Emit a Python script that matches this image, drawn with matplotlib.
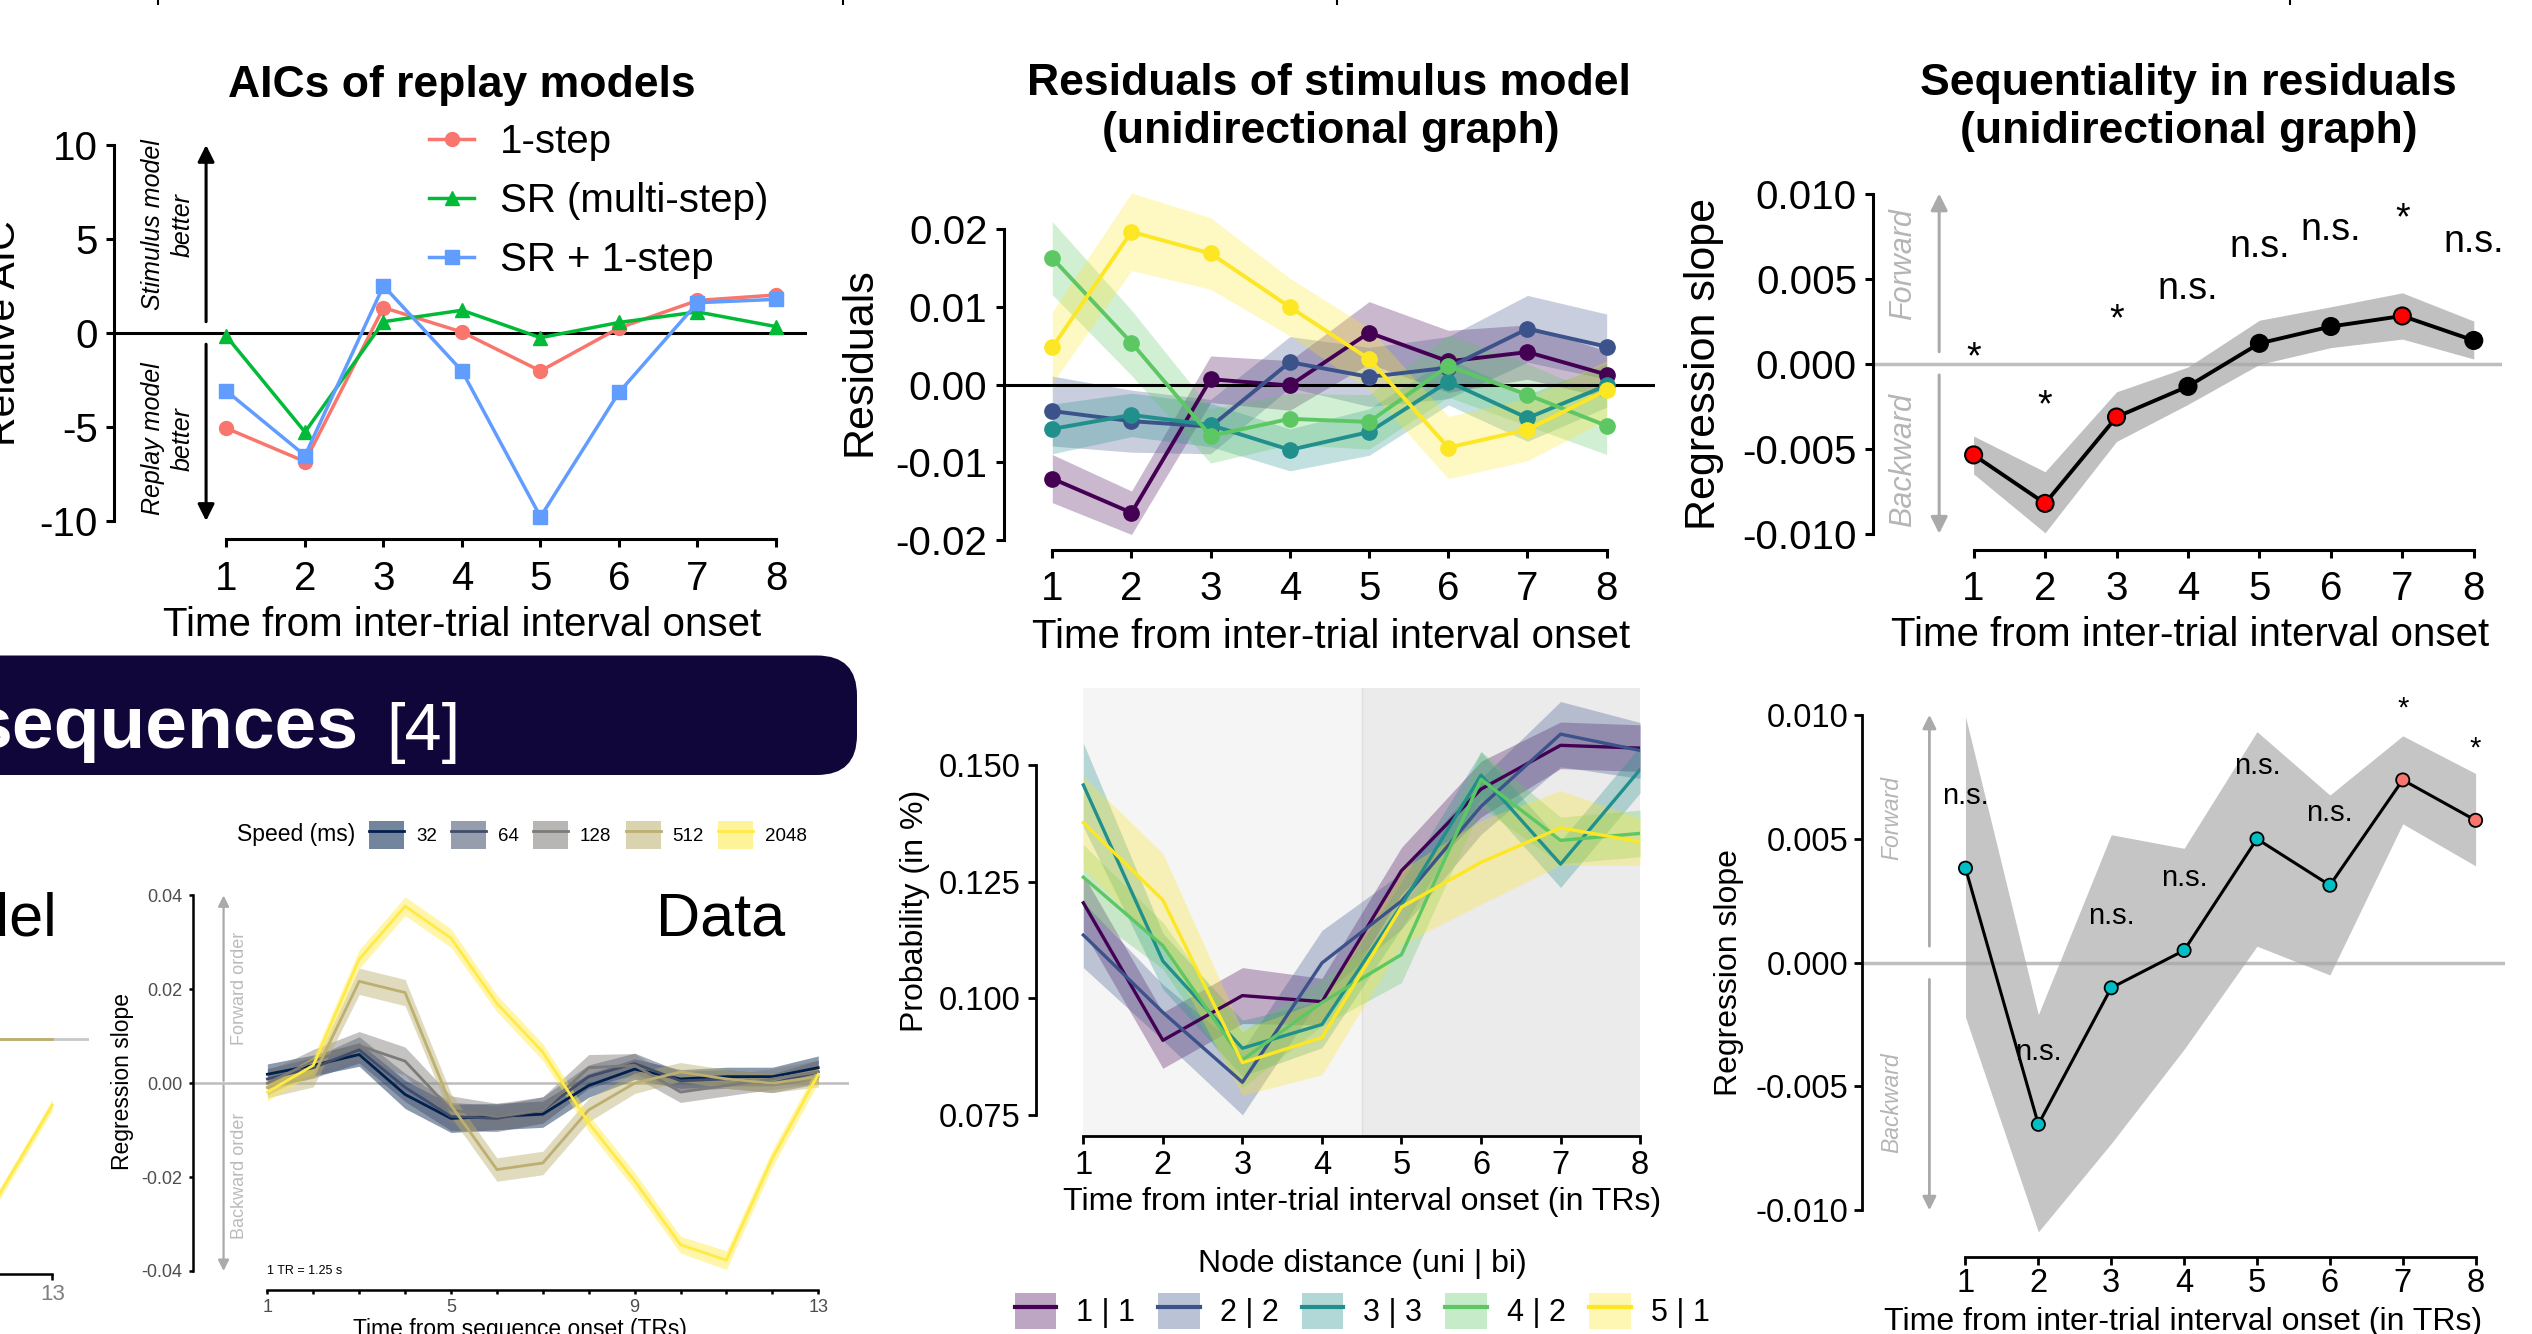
import matplotlib
matplotlib.use('Agg')
import matplotlib.pyplot as plt
from matplotlib.patches import Patch, FancyBboxPatch
from matplotlib.lines import Line2D
import numpy as np

plt.rcParams['font.family'] = ['Liberation Sans', 'DejaVu Sans']
plt.rcParams['axes.unicode_minus'] = False

W, H = 2532, 1334

# ---- top left: AICs of replay models
steps = [1, 2, 3, 4, 5, 6, 7, 8]
aic_names = ['1-step', 'SR (multi-step)', 'SR + 1-step']
aic_onestep = [-5.07, -6.84, 1.35, 0.05, -2.02, 0.27, 1.73, 2.02]
aic_sr = [-0.18, -5.27, 0.60, 1.21, -0.25, 0.56, 1.12, 0.34]
aic_sr_onestep = [-3.09, -6.52, 2.51, -2.02, -9.78, -3.16, 1.61, 1.79]

# ---- top middle: residuals of stimulus model, node distance 1..5
node_labels = ['1 | 1', '2 | 2', '3 | 3', '4 | 2', '5 | 1']
node_colors = ['#440154', '#3B528B', '#21908C', '#5DC863', '#FDE725']
res_d1 = [-0.0121, -0.0165, 0.0007, -0.0001, 0.0067, 0.0030, 0.0042, 0.0013]
res_d2 = [-0.0034, -0.0047, -0.0054, 0.0029, 0.0010, 0.0022, 0.0072, 0.0049]
res_d3 = [-0.0057, -0.0039, -0.0052, -0.0084, -0.0061, 0.0004, -0.0043, -0.0001]
res_d4 = [0.0163, 0.0054, -0.0066, -0.0044, -0.0048, 0.0024, -0.0013, -0.0053]
res_d5 = [0.0048, 0.0197, 0.0169, 0.0100, 0.0033, -0.0081, -0.0058, -0.0007]
res_se1 = [0.0031, 0.0028, 0.0030, 0.0032, 0.0040, 0.0040, 0.0035, 0.0030]
res_se2 = [0.0045, 0.0040, 0.0035, 0.0033, 0.0038, 0.0040, 0.0043, 0.0042]
res_se3 = [0.0032, 0.0028, 0.0028, 0.0027, 0.0030, 0.0030, 0.0030, 0.0028]
res_se4 = [0.0047, 0.0042, 0.0035, 0.0033, 0.0035, 0.0040, 0.0040, 0.0037]
res_se5 = [0.0046, 0.0050, 0.0046, 0.0037, 0.0040, 0.0040, 0.0040, 0.0038]

# ---- top right: sequentiality in residuals
seq_slope = [-0.00537, -0.00822, -0.00314, -0.00134, 0.00119, 0.00218, 0.00280, 0.00136]
seq_lo = [-0.00649, -0.00995, -0.00458, -0.00240, -0.00005, 0.00094, 0.00144, 0.00027]
seq_hi = [-0.00426, -0.00636, -0.00166, -0.00020, 0.00255, 0.00334, 0.00416, 0.00250]
seq_sig = [True, True, True, False, False, False, True, False]
seq_text = ['*', '*', '*', 'n.s.', 'n.s.', 'n.s.', '*', 'n.s.']
seq_text_y = [0.00106, -0.00178, 0.00330, 0.00440, 0.00688, 0.00787, 0.00923, 0.00713]

# ---- bottom left: speed data (13 TRs)
trs = list(range(1, 14))
speed_labels = ['32', '64', '128', '512', '2048']
speed_colors = ['#00204D', '#414D6B', '#7C7B78', '#BCAF6F', '#FFEA46']
speed_32 = [0.0019, 0.0038, 0.0061, -0.0024, -0.0075, -0.0071, -0.0066, -0.0005, 0.0030, 0.0009, 0.0014, 0.0014, 0.0033]
speed_64 = [0.0009, 0.0033, 0.0071, -0.0009, -0.0071, -0.0075, -0.0057, 0.0014, 0.0042, 0.0005, 0.0009, 0.0000, 0.0024]
speed_128 = [0.0000, 0.0047, 0.0080, 0.0047, -0.0057, -0.0071, -0.0057, 0.0033, 0.0038, -0.0019, -0.0005, 0.0009, 0.0024]
speed_512 = [-0.0009, 0.0014, 0.0217, 0.0193, -0.0047, -0.0184, -0.0170, -0.0057, 0.0000, 0.0024, 0.0009, 0.0000, 0.0014]
speed_2048 = [-0.0019, 0.0038, 0.0264, 0.0377, 0.0309, 0.0170, 0.0066, -0.0085, -0.0208, -0.0344, -0.0377, -0.0160, 0.0019]
speed_se32 = [0.0022, 0.0022, 0.0025, 0.0030, 0.0030, 0.0028, 0.0028, 0.0025, 0.0022, 0.0020, 0.0020, 0.0020, 0.0025]
speed_se64 = [0.0022, 0.0022, 0.0028, 0.0030, 0.0030, 0.0028, 0.0028, 0.0025, 0.0022, 0.0020, 0.0020, 0.0020, 0.0025]
speed_se128 = [0.0025, 0.0025, 0.0030, 0.0030, 0.0030, 0.0028, 0.0028, 0.0028, 0.0025, 0.0022, 0.0022, 0.0022, 0.0025]
speed_se512 = [0.0022, 0.0022, 0.0028, 0.0028, 0.0025, 0.0025, 0.0025, 0.0025, 0.0022, 0.0020, 0.0020, 0.0020, 0.0022]
speed_se2048 = [0.0018, 0.0018, 0.0020, 0.0020, 0.0020, 0.0018, 0.0018, 0.0018, 0.0018, 0.0018, 0.0020, 0.0018, 0.0018]
# the cut-off "Model" panel on the far left
model_trs = [10, 11, 12, 13]
model_512 = [0.0, 0.0, 0.0, 0.0]
model_2048 = [-0.0600, -0.0470, -0.0306, -0.0141]

# ---- bottom middle: "clean" trials probabilities
prob_d1 = [0.1205, 0.0910, 0.1006, 0.0993, 0.1274, 0.1449, 0.1543, 0.1537]
prob_d2 = [0.1136, 0.0970, 0.0820, 0.1076, 0.1209, 0.1412, 0.1567, 0.1532]
prob_d3 = [0.1458, 0.1080, 0.0893, 0.0944, 0.1200, 0.1479, 0.1288, 0.1491]
prob_d4 = [0.1260, 0.1113, 0.0868, 0.0991, 0.1094, 0.1470, 0.1339, 0.1354]
prob_d5 = [0.1377, 0.1211, 0.0862, 0.0916, 0.1196, 0.1292, 0.1366, 0.1336]
prob_se1 = [0.006, 0.006, 0.006, 0.005, 0.005, 0.006, 0.005, 0.005]
prob_se2 = [0.007, 0.006, 0.007, 0.007, 0.006, 0.006, 0.007, 0.006]
prob_se3 = [0.009, 0.006, 0.006, 0.005, 0.005, 0.005, 0.005, 0.005]
prob_se4 = [0.007, 0.005, 0.006, 0.005, 0.006, 0.006, 0.005, 0.005]
prob_se5 = [0.010, 0.010, 0.007, 0.008, 0.008, 0.009, 0.008, 0.005]

# ---- bottom right: sequentiality, clean trials
seq2_slope = [0.00381, -0.00653, -0.00102, 0.00049, 0.00499, 0.00312, 0.00737, 0.00574]
seq2_lo = [-0.00220, -0.01087, -0.00730, -0.00350, 0.00066, -0.00050, 0.00560, 0.00390]
seq2_hi = [0.00993, -0.00210, 0.00516, 0.00461, 0.00932, 0.00676, 0.00915, 0.00763]
seq2_sig = [False, False, False, False, False, False, True, True]
seq2_text = ['n.s.', 'n.s.', 'n.s.', 'n.s.', 'n.s.', 'n.s.', '*', '*']
seq2_text_y = [0.00672, -0.00359, 0.00187, 0.00343, 0.00794, 0.00603, 0.01062, 0.00901]


fig = plt.figure(figsize=(W / 100, H / 100), dpi=100)
fig.patch.set_facecolor('white')

# full-figure canvas in pixel units for titles and decorations
page = fig.add_axes([0, 0, 1, 1], zorder=-5)
page.set_xlim(0, W)
page.set_ylim(H, 0)
page.axis('off')


def panel(box):
    x0, y0, x1, y1 = box
    ax = fig.add_axes([x0 / W, 1 - y1 / H, (x1 - x0) / W, (y1 - y0) / H])
    ax.patch.set_alpha(0)
    ax.spines['top'].set_visible(False)
    ax.spines['right'].set_visible(False)
    return ax


def style(ax, size, lw, ticklen, xpad, ypad, color='black'):
    for s in ['left', 'bottom']:
        ax.spines[s].set_linewidth(lw)
    ax.tick_params(labelsize=size, width=lw, length=ticklen, direction='out', labelcolor=color)
    ax.tick_params(axis='x', pad=xpad)
    ax.tick_params(axis='y', pad=ypad)


def labels(ax, box, xl=None, xpos=None, xs=29, yl=None, ypos=None, ys=31):
    x0, y0, x1, y1 = box
    if xl:
        ax.set_xlabel(xl, fontsize=xs)
        ax.xaxis.label.set_va('baseline')
        ax.xaxis.set_label_coords((xpos[0] - x0) / (x1 - x0), (y1 - xpos[1]) / (y1 - y0))
    if yl:
        ax.set_ylabel(yl, fontsize=ys)
        ax.yaxis.label.set(va='center', rotation_mode='default')
        ax.yaxis.set_label_coords((ypos[0] - x0) / (x1 - x0), (y1 - ypos[1]) / (y1 - y0))


def arrow(ax, x, y_from, y_to, color, lw, ms):
    ax.annotate('', xy=(x, y_to), xytext=(x, y_from),
                arrowprops=dict(arrowstyle='-|>', color=color, lw=lw, mutation_scale=ms,
                                shrinkA=0, shrinkB=0))


def sig_labels(ax, texts, ys, size):
    for x, t, y in zip(steps, texts, ys):
        dy = -0.33 * size if t == '*' else 0
        ax.annotate(t, (x, y), xytext=(0, dy), textcoords='offset points',
                    ha='center', va='center', fontsize=size)


# tiny fragments at the very top edge
page.vlines([158, 843, 1337, 2290], 0, 5, color='black', lw=1.5)

# ================= AIC panel
box1 = (114, 145, 807, 539)
ax1 = panel(box1)
ax1.set_xlim(-0.433, 8.395)
ax1.set_ylim(-10.96, 10)
ax1.axhline(0, color='black', lw=2.2, zorder=1)
ax1.plot(steps, aic_onestep, '-o', color='#F8766D', lw=2.5, ms=10, label=aic_names[0], zorder=3)
ax1.plot(steps, aic_sr, '-^', color='#00BA38', lw=2.5, ms=10, label=aic_names[1], zorder=3)
ax1.plot(steps, aic_sr_onestep, '-s', color='#619CFF', lw=2.5, ms=10, label=aic_names[2], zorder=3)
ax1.set_xticks(steps)
ax1.set_yticks([-10, -5, 0, 5, 10])
ax1.spines['left'].set_bounds(-10, 10)
ax1.spines['bottom'].set_bounds(1, 8)
style(ax1, 29, 2.2, 5.8, 9, 5.8)
labels(ax1, box1, 'Time from inter-trial interval onset', (462, 636), 29,
       'Relative AIC', (4, 333), 29.5)
arrow(ax1, 0.74, 0.6, 10, 'black', 2.2, 25)
arrow(ax1, 0.74, -0.6, -10, 'black', 2.2, 25)
ax1.legend(loc='upper left', bbox_to_anchor=(429 / W, 1 - 123 / H), bbox_transform=fig.transFigure,
           frameon=False, fontsize=29, handlelength=1.12, handletextpad=0.65, labelspacing=0.52,
           borderpad=0, borderaxespad=0)
page.text(462, 97, 'AICs of replay models', ha='center', va='baseline', fontsize=32, fontweight='bold')
page.text(168, 225, 'Stimulus model\nbetter', rotation=90, ha='center', va='center',
          fontsize=18, style='italic', linespacing=1.3)
page.text(168, 439, 'Replay model\nbetter', rotation=90, ha='center', va='center',
          fontsize=18, style='italic', linespacing=1.3)

# ================= Residuals panel
box2 = (1003.5, 190, 1655, 550)
ax2 = panel(box2)
ax2.set_xlim(0.384, 8.61)
ax2.set_ylim(-0.0213, 0.02508)
res_means = [res_d1, res_d2, res_d3, res_d4, res_d5]
res_ses = [res_se1, res_se2, res_se3, res_se4, res_se5]
for m, s, c in zip(res_means, res_ses, node_colors):
    m = np.array(m)
    s = np.array(s)
    ax2.fill_between(steps, m - s, m + s, color=c, alpha=0.28, lw=0)
ax2.axhline(0, color='black', lw=2.2, zorder=2)
for m, c in zip(res_means, node_colors):
    ax2.plot(steps, m, '-o', color=c, lw=2.8, ms=11, zorder=3)
ax2.set_xticks(steps)
ax2.set_yticks([-0.02, -0.01, 0, 0.01, 0.02])
ax2.set_yticklabels(['-0.02', '-0.01', '0.00', '0.01', '0.02'])
ax2.spines['left'].set_bounds(-0.02, 0.02)
ax2.spines['bottom'].set_bounds(1, 8)
style(ax2, 29, 2.2, 5.8, 8.6, 5.8)
labels(ax2, box2, 'Time from inter-trial interval onset', (1331, 648), 29,
       'Residuals', (860, 362), 31)
page.text(1329, 95, 'Residuals of stimulus model', ha='center', va='baseline', fontsize=32, fontweight='bold')
page.text(1331, 143, '(unidirectional graph)', ha='center', va='baseline', fontsize=32, fontweight='bold')

# ================= Sequentiality panel
box3 = (1873, 185, 2502, 550)
ax3 = panel(box3)
ax3.set_xlim(-0.408, 8.395)
ax3.set_ylim(-0.01096, 0.0105)
ax3.axhline(0, color='#BEBEBE', lw=2.5, zorder=1)
ax3.fill_between(steps, seq_lo, seq_hi, color='#A6A6A6', alpha=0.7, lw=0, zorder=2)
ax3.plot(steps, seq_slope, color='black', lw=2.8, zorder=3)
ax3.scatter(steps, seq_slope, s=150, c=['#FF0000' if g else 'black' for g in seq_sig],
            edgecolors='black', linewidths=1.5, zorder=4)
sig_labels(ax3, seq_text, seq_text_y, 27)
ax3.set_xticks(steps)
ax3.set_yticks([-0.01, -0.005, 0, 0.005, 0.01])
ax3.set_yticklabels(['-0.010', '-0.005', '0.000', '0.005', '0.010'])
ax3.spines['left'].set_bounds(-0.01, 0.01)
ax3.spines['bottom'].set_bounds(1, 8)
style(ax3, 29, 2.2, 5.8, 8.6, 5.8)
labels(ax3, box3, 'Time from inter-trial interval onset', (2190, 646), 29,
       'Regression slope', (1704, 364), 31)
arrow(ax3, 0.518, 0.0007, 0.010, '#AAAAAA', 2.2, 25)
arrow(ax3, 0.518, -0.00067, -0.010, '#AAAAAA', 2.2, 25)
page.text(1903, 264, 'Forward', rotation=90, ha='center', va='center', fontsize=22,
          style='italic', color='#B5B5B5')
page.text(1903, 460, 'Backward', rotation=90, ha='center', va='center', fontsize=22,
          style='italic', color='#B5B5B5')
page.text(2188, 95, 'Sequentiality in residuals', ha='center', va='baseline', fontsize=32, fontweight='bold')
page.text(2189, 143, '(unidirectional graph)', ha='center', va='baseline', fontsize=32, fontweight='bold')

# ================= section banner
page.add_patch(FancyBboxPatch((-80, 655.5), 937, 119.5, boxstyle='round,pad=0,rounding_size=40',
                              facecolor='#10063A', edgecolor='none'))
page.text(358, 748, 'sequences', ha='right', va='baseline', fontsize=54, fontweight='bold', color='white')
page.text(386, 750, '[4]', ha='left', va='baseline', fontsize=48, color='white')

# ================= cut-off Model panel
box0 = (-600, 886, 89, 1274)
ax0 = panel(box0)
ax0.set_xlim(-1.2, 13.8)
ax0.set_ylim(-0.0501, 0.0326)
ax0.spines['left'].set_visible(False)
ax0.axhline(0, color='#C8C8C8', lw=2, zorder=1)
ax0.plot(model_trs, model_512, color=speed_colors[3], lw=2, zorder=2)
ax0.fill_between(model_trs, np.array(model_2048) - 0.0012, np.array(model_2048) + 0.0012,
                 color=speed_colors[4], alpha=0.45, lw=0)
ax0.plot(model_trs, model_2048, color=speed_colors[4], lw=2, zorder=3)
ax0.set_xticks([1, 5, 9, 13])
ax0.set_yticks([])
ax0.spines['bottom'].set_bounds(1, 13)
style(ax0, 16, 1.8, 4, 3, 3, color='#7F7F7F')
page.text(57, 920, 'Model', ha='right', va='center', fontsize=44)

# ================= Data panel (speeds)
box4 = (193, 886, 849, 1290)
ax4 = panel(box4)
ax4.set_xlim(-0.62, 13.67)
ax4.set_ylim(-0.04405, 0.042)
ax4.axhline(0, color='#BDBDBD', lw=1.8, zorder=1)
speed_means = [speed_32, speed_64, speed_128, speed_512, speed_2048]
speed_ses = [speed_se32, speed_se64, speed_se128, speed_se512, speed_se2048]
for m, s, c in zip(speed_means, speed_ses, speed_colors):
    m = np.array(m)
    s = np.array(s)
    ax4.fill_between(trs, m - s, m + s, color=c, alpha=0.45, lw=0, zorder=2)
    ax4.plot(trs, m, color=c, lw=2, zorder=3)
ax4.set_xticks(trs)
ax4.set_xticklabels([str(t) if t in (1, 5, 9, 13) else '' for t in trs])
ax4.set_yticks([-0.04, -0.02, 0, 0.02, 0.04])
ax4.set_yticklabels(['-0.04', '-0.02', '0.00', '0.02', '0.04'])
ax4.spines['left'].set_bounds(-0.04, 0.04)
ax4.spines['bottom'].set_bounds(1, 13)
style(ax4, 13, 1.8, 3.2, 3.2, 4.7, color='#4D4D4D')
labels(ax4, box4, 'Time from sequence onset (TRs)', (520, 1336), 16.5,
       'Regression slope', (122, 1082), 16.5)
arrow(ax4, 0.046, 0.0005, 0.04, '#AAAAAA', 1.6, 16)
arrow(ax4, 0.046, -0.0005, -0.04, '#AAAAAA', 1.6, 16)
page.text(240, 988, 'Forward order', rotation=90, ha='center', va='center', fontsize=13, color='#BBBBBB')
page.text(240, 1176, 'Backward order', rotation=90, ha='center', va='center', fontsize=13, color='#BBBBBB')
ax4.text(1, -0.04, '1 TR = 1.25 s', ha='left', va='center', fontsize=9)
page.text(785, 920, 'Data', ha='right', va='center', fontsize=44)
page.text(355, 835, 'Speed (ms)', ha='right', va='center', fontsize=16.5)
speed_handles = [(Patch(facecolor=c, alpha=0.55, edgecolor='none'), Line2D([], [], color=c, lw=2))
                 for c in speed_colors]
fig.legend(speed_handles, speed_labels, loc='center left', bbox_to_anchor=(369 / W, 1 - 835 / H),
           ncol=5, frameon=False, fontsize=13.5, handlelength=1.87, handleheight=1.87,
           handletextpad=0.64, columnspacing=0.75, borderpad=0, borderaxespad=0)

# ================= Clean trials panel
box5 = (1035.7, 688, 1640.1, 1136)
ax5 = panel(box5)
ax5.set_xlim(0.401, 8)
ax5.set_ylim(0.07047, 0.1666)
ax5.axvspan(1, 4.5, color='#F5F5F5', lw=0, zorder=0)
ax5.axvspan(4.5, 8, color='#EBEBEB', lw=0, zorder=0)
ax5.axvline(4.5, color='#DEDEDE', lw=1, zorder=0)
prob_means = [prob_d1, prob_d2, prob_d3, prob_d4, prob_d5]
prob_ses = [prob_se1, prob_se2, prob_se3, prob_se4, prob_se5]
for m, s, c in zip(prob_means, prob_ses, node_colors):
    m = np.array(m)
    s = np.array(s)
    ax5.fill_between(steps, m - s, m + s, color=c, alpha=0.3, lw=0, zorder=1)
for m, c in zip(prob_means, node_colors):
    ax5.plot(steps, m, color=c, lw=2.4, zorder=2)
ax5.set_xticks(steps)
ax5.set_yticks([0.075, 0.1, 0.125, 0.15])
ax5.set_yticklabels(['0.075', '0.100', '0.125', '0.150'])
ax5.spines['left'].set_bounds(0.075, 0.15)
ax5.spines['bottom'].set_bounds(1, 8)
style(ax5, 23.5, 2.0, 5.8, 4.3, 5)
labels(ax5, box5, 'Time from inter-trial interval onset (in TRs)', (1362, 1210), 23,
       'Probability (in %)', (915, 911), 23)
page.text(1279, 725, '"Clean"', ha='center', va='center', fontsize=43)
page.text(1279, 805, 'trials', ha='center', va='center', fontsize=43)
node_handles = [(Patch(facecolor=c, alpha=0.35, edgecolor='none'), Line2D([], [], color=c, lw=3))
                for c in node_colors]
fig.legend(node_handles, node_labels, loc='upper center', bbox_to_anchor=(1362 / W, 1 - 1249 / H),
           ncol=5, frameon=False, fontsize=22, title='Node distance (uni | bi)', title_fontsize=23,
           handlelength=1.37, handleheight=1.44, handletextpad=0.65, columnspacing=0.75,
           borderpad=0, borderaxespad=0, labelspacing=0.46)

# ================= Sequentiality (clean) panel
box6 = (1862, 690, 2505.5, 1257.4)
ax6 = panel(box6)
ax6.set_xlim(-0.42, 8.41)
ax6.set_ylim(-0.0119, 0.011)
ax6.axhline(0, color='#BEBEBE', lw=2.5, zorder=1)
ax6.fill_between(steps, seq2_lo, seq2_hi, color='#A6A6A6', alpha=0.65, lw=0, zorder=2)
ax6.plot(steps, seq2_slope, color='black', lw=2.2, zorder=3)
ax6.scatter(steps, seq2_slope, s=90, c=['#F8766D' if g else '#00BFC4' for g in seq2_sig],
            edgecolors='black', linewidths=1.3, zorder=4)
sig_labels(ax6, seq2_text, seq2_text_y, 21)
ax6.set_xticks(steps)
ax6.set_yticks([-0.01, -0.005, 0, 0.005, 0.01])
ax6.set_yticklabels(['-0.010', '-0.005', '0.000', '0.005', '0.010'])
ax6.spines['left'].set_bounds(-0.01, 0.01)
ax6.spines['bottom'].set_bounds(1, 8)
style(ax6, 23.5, 2.0, 5.8, 2, 4)
labels(ax6, box6, 'Time from inter-trial interval onset (in TRs)', (2183, 1330), 23,
       'Regression slope', (1729, 973), 23)
arrow(ax6, 0.505, 0.00066, 0.010, '#AAAAAA', 2.0, 20)
arrow(ax6, 0.505, -0.00068, -0.010, '#AAAAAA', 2.0, 20)
page.text(1892, 818, 'Forward', rotation=90, ha='center', va='center', fontsize=16.5,
          style='italic', color='#B5B5B5')
page.text(1892, 1103, 'Backward', rotation=90, ha='center', va='center', fontsize=16.5,
          style='italic', color='#B5B5B5')

fig.savefig('out.png', dpi=100, facecolor='white')
